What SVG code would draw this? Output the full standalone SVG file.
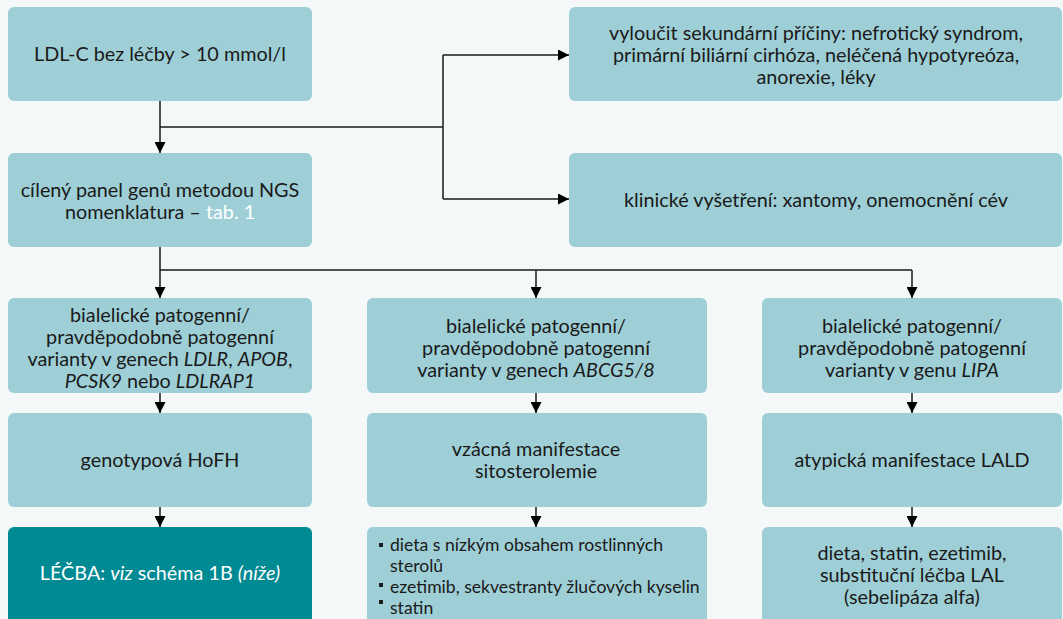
<svg xmlns="http://www.w3.org/2000/svg" width="1063" height="619" viewBox="0 0 1063 619">
<defs>
<style>
.bg{fill:#f4f8f8}
.box{fill:#9ecfd6}
.dark{fill:#008a93}
text{font-family:Lato,"Noto Sans",sans-serif;font-size:19.8px;fill:#1a1a1a;text-anchor:middle}
.w{fill:#ffffff}
.lst{font-size:17.6px;text-anchor:start}
.c{fill:none;stroke:#1a1a1a;stroke-width:1.5}
</style>
<marker id="ah" viewBox="0 0 10 10" refX="10" refY="5" markerWidth="11" markerHeight="11" markerUnits="userSpaceOnUse" orient="auto">
<path d="M0,0 L10,5 L0,10 Z" fill="#000"/>
</marker>
</defs>
<rect class="bg" x="0" y="0" width="1063" height="619"/>

<g id="connectors">
<path class="c" d="M160 101 V153" marker-end="url(#ah)"/>
<path class="c" d="M160 127 H443"/>
<path class="c" d="M443 55 V199"/>
<path class="c" d="M443 55 H569" marker-end="url(#ah)"/>
<path class="c" d="M443 199 H569" marker-end="url(#ah)"/>
<path class="c" d="M160 247 V298" marker-end="url(#ah)"/>
<path class="c" d="M160 270 H912"/>
<path class="c" d="M536 270 V298" marker-end="url(#ah)"/>
<path class="c" d="M912 270 V298" marker-end="url(#ah)"/>
<path class="c" d="M160 393 V413" marker-end="url(#ah)"/>
<path class="c" d="M536 393 V413" marker-end="url(#ah)"/>
<path class="c" d="M912 393 V413" marker-end="url(#ah)"/>
<path class="c" d="M160 507 V527" marker-end="url(#ah)"/>
<path class="c" d="M536 507 V527" marker-end="url(#ah)"/>
<path class="c" d="M912 507 V527" marker-end="url(#ah)"/>
</g>

<g id="n1">
<rect class="box" x="8" y="7" width="304" height="94" rx="6"/>
<text x="160" y="61">LDL-C bez léčby &gt; 10 mmol/l</text>
</g>
<g id="n2">
<rect class="box" x="8" y="153" width="304" height="94" rx="6"/>
<text x="160" y="197">cílený panel genů metodou NGS</text>
<text x="160" y="219">nomenklatura – <tspan class="w">tab. 1</tspan></text>
</g>
<g id="n3">
<rect class="box" x="569" y="7" width="493" height="94" rx="6"/>
<text x="816" y="40">vyloučit sekundární příčiny: nefrotický syndrom,</text>
<text x="816" y="62">primární biliární cirhóza, neléčená hypotyreóza,</text>
<text x="816" y="84">anorexie, léky</text>
</g>
<g id="n4">
<rect class="box" x="569" y="153" width="493" height="94" rx="6"/>
<text x="816" y="207">klinické vyšetření: xantomy, onemocnění cév</text>
</g>

<g id="n5">
<rect class="box" x="8" y="298" width="304" height="95" rx="6"/>
<text x="160" y="322">bialelické patogenní/</text>
<text x="160" y="344">pravděpodobně patogenní</text>
<text x="160" y="366">varianty v genech <tspan font-style="italic">LDLR</tspan>, <tspan font-style="italic">APOB</tspan>,</text>
<text x="160" y="388"><tspan font-style="italic">PCSK9</tspan> nebo <tspan font-style="italic">LDLRAP1</tspan></text>
</g>
<g id="n6">
<rect class="box" x="367" y="298" width="340" height="95" rx="6"/>
<text x="536" y="333">bialelické patogenní/</text>
<text x="536" y="355">pravděpodobně patogenní</text>
<text x="536" y="377">varianty v genech <tspan font-style="italic">ABCG5/8</tspan></text>
</g>
<g id="n7">
<rect class="box" x="762" y="298" width="300" height="95" rx="6"/>
<text x="912" y="333">bialelické patogenní/</text>
<text x="912" y="355">pravděpodobně patogenní</text>
<text x="912" y="377">varianty v genu <tspan font-style="italic">LIPA</tspan></text>
</g>

<g id="n8">
<rect class="box" x="8" y="413" width="304" height="94" rx="6"/>
<text x="160" y="467">genotypová HoFH</text>
</g>
<g id="n9">
<rect class="box" x="367" y="413" width="340" height="94" rx="6"/>
<text x="536" y="456">vzácná manifestace</text>
<text x="536" y="478">sitosterolemie</text>
</g>
<g id="n10">
<rect class="box" x="762" y="413" width="300" height="94" rx="6"/>
<text x="912" y="467">atypická manifestace LALD</text>
</g>

<g id="n11">
<rect class="dark" x="8" y="527" width="304" height="100" rx="6"/>
<text x="160" y="580" class="w">LÉČBA: <tspan font-style="italic">viz</tspan> schéma 1B <tspan font-style="italic">(níže)</tspan></text>
</g>
<g id="n12">
<rect class="box" x="367" y="527" width="340" height="100" rx="6"/>
<rect x="379" y="543" width="4" height="4" fill="#1a1a1a"/>
<rect x="379" y="583" width="4" height="4" fill="#1a1a1a"/>
<rect x="379" y="600" width="4" height="4" fill="#1a1a1a"/>
<text class="lst" x="390" y="551">dieta s nízkým obsahem rostlinných</text>
<text class="lst" x="390" y="572">sterolů</text>
<text class="lst" x="390" y="593">ezetimib, sekvestranty žlučových kyselin</text>
<text class="lst" x="390" y="614">statin</text>
</g>
<g id="n13">
<rect class="box" x="762" y="527" width="300" height="100" rx="6"/>
<text x="912" y="560">dieta, statin, ezetimib,</text>
<text x="912" y="582">substituční léčba LAL</text>
<text x="912" y="604">(sebelipáza alfa)</text>
</g>
</svg>
